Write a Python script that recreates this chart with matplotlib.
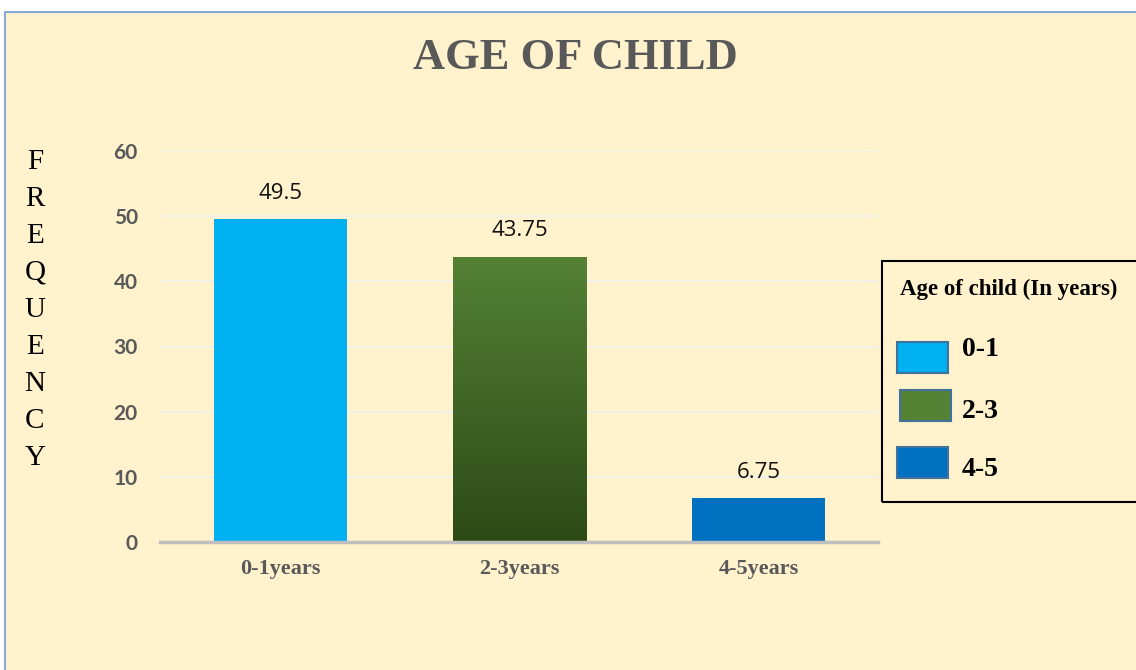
import matplotlib.pyplot as plt
import numpy as np
from matplotlib.colors import LinearSegmentedColormap
from matplotlib.patches import Rectangle

categories = ["0-1years", "2-3years", "4-5years"]
values = [49.5, 43.75, 6.75]
value_labels = ["49.5", "43.75", "6.75"]
legend_labels = ["0-1", "2-3", "4-5"]
yticks = [0, 10, 20, 30, 40, 50, 60]

CREAM = "#FFF2CC"
BLUE_LIGHT = "#00B0F0"
GREEN_TOP = "#548235"
GREEN_BOTTOM = "#2C4A16"
BLUE_DARK = "#0070C0"
GRAY = "#595959"

W, H = 1136, 670
fig = plt.figure(figsize=(W / 100, H / 100), dpi=100)
fig.patch.set_facecolor("white")

# cream chart area with thin blue frame (top-left corner visible)
fig.patches.append(
    Rectangle((5 / W, -0.1), 1.2, 1.1 - 12 / H, transform=fig.transFigure,
              facecolor=CREAM, edgecolor="#6C9BD2", lw=1.2, zorder=-5)
)

ax = fig.add_axes([160 / W, 1 - 542 / H, 718 / W, (542 - 151) / H])
ax.set_facecolor("none")
x = np.arange(len(categories))
bars = ax.bar(x, values, width=0.557, color=[BLUE_LIGHT, GREEN_TOP, BLUE_DARK], zorder=2)

# vertical gradient for the green bar
grad_bar = bars[1]
cmap = LinearSegmentedColormap.from_list("g", [GREEN_BOTTOM, GREEN_TOP])
bx, bw, bh = grad_bar.get_x(), grad_bar.get_width(), grad_bar.get_height()
grad = np.linspace(0, 1, 256).reshape(-1, 1)
img = ax.imshow(grad, cmap=cmap, origin="lower", aspect="auto",
                extent=(bx, bx + bw, 0, bh), zorder=3)
img.set_clip_path(grad_bar)

for rect, lab in zip(bars, value_labels):
    ax.annotate(lab, (rect.get_x() + rect.get_width() / 2, rect.get_height()),
                xytext=(0, 26), textcoords="offset pixels", ha="center", va="center",
                fontsize=16, family="Open Sans", color="#111111")

ax.set_xlim(-0.504, 2.5)
ax.set_ylim(0, 60)
ax.set_yticks(yticks)
ax.set_xticks(x)
ax.set_xticklabels(categories, family="Liberation Serif", fontweight="bold",
                   fontsize=16, color=GRAY)
ax.set_yticklabels([str(t) for t in yticks], family="Lato", fontweight="bold",
                   fontsize=15, color=GRAY)
ax.tick_params(axis="both", length=0)
ax.tick_params(axis="y", pad=16)
ax.tick_params(axis="x", pad=12)
ax.grid(axis="y", color="#F2EFE6", lw=1.6, zorder=0)
for side in ["top", "right", "left"]:
    ax.spines[side].set_visible(False)
ax.spines["bottom"].set_color("#BFBFBF")
ax.spines["bottom"].set_linewidth(2.5)
ax.spines["bottom"].set_zorder(4)

fig.text(575 / W, 1 - 58 / H, "AGE OF CHILD", ha="center", va="center",
         family="Liberation Serif", fontweight="bold", fontsize=32, color=GRAY)

fig.text(35 / W, 1 - 310 / H, "\n".join("FREQUENCY"), ha="center", va="center",
         family="Liberation Serif", fontsize=21, color="black", linespacing=1.55)

# legend box, running past the right edge as in the original
fig.patches.append(
    Rectangle((882 / W, 1 - 502 / H), 400 / W, (502 - 261) / H, transform=fig.transFigure,
              facecolor="none", edgecolor="black", lw=1.5, zorder=5)
)
fig.text(900 / W, 1 - 289 / H, "Age of child (In years)", ha="left", va="center",
         family="Liberation Serif", fontweight="bold", fontsize=16.5, color="black")
legend_colors = [BLUE_LIGHT, GREEN_TOP, BLUE_DARK]
swatch_x = [897, 900, 897]
swatch_y = [342, 390, 447]
text_y = [349, 412, 470]
for col, lab, sx, sy, ty in zip(legend_colors, legend_labels, swatch_x, swatch_y, text_y):
    fig.patches.append(
        Rectangle((sx / W, 1 - (sy + 31) / H), 51 / W, 31 / H, transform=fig.transFigure,
                  facecolor=col, edgecolor="#41719C", lw=1.5, zorder=5)
    )
    fig.text(962 / W, 1 - ty / H, lab, ha="left", va="center",
             family="Liberation Serif", fontweight="bold", fontsize=20, color="black")

fig.savefig("out.png", dpi=100)
